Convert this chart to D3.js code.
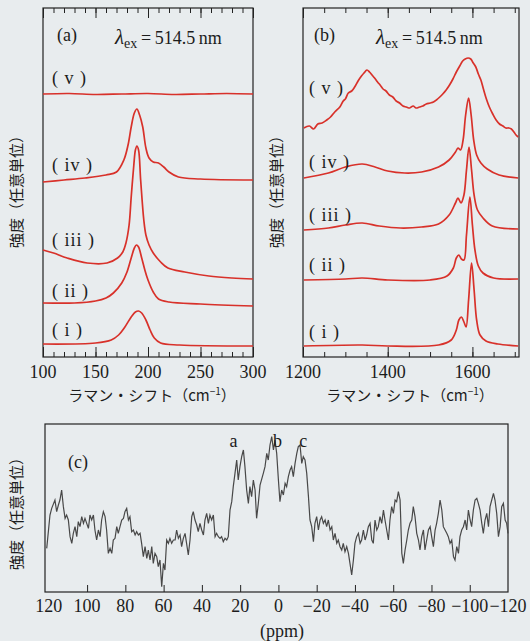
<!DOCTYPE html>
<html lang="ja">
<head>
<meta charset="utf-8">
<title>Raman / NMR spectra</title>
<script src="https://cdn.jsdelivr.net/npm/d3@7"></script>
<style>
  html, body { margin: 0; padding: 0; background: #e8ecee; }
  svg { display: block; }
  .num { font-family: "Liberation Serif", "Times New Roman", Tinos, "DejaVu Serif", "Noto Serif", serif; font-size: 18px; fill: #1c1c1c; }
  .jp { font-family: "Noto Sans CJK JP", sans-serif; font-size: 15px; fill: #1c1c1c; }
  .frame { fill: none; stroke: #222; stroke-width: 1.2; }
  .tick line { stroke: #222; stroke-width: 1; }
  .raman { fill: none; stroke: #d8312a; stroke-width: 1.7; }
  .nmr { fill: none; stroke: #484848; stroke-width: 1.2; }
</style>
</head>
<body>
<svg id="chart" width="530" height="641"></svg>
<script>
// ---- data (intensities in arbitrary units) ----
var traceLabels = ["(i)", "(ii)", "(iii)", "(iv)", "(v)"];

// (a) RBM region, [wavenumber cm-1, intensity]
var rbmI = [[100,13],[150,14],[165,17],[172,22],[178,30],[184,40],[188,45],[191,46],[194,44],[198,37],[202,27],[206,19],[212,14],[230,12],[300,11]];
var rbmII = [[100,54],[130,54],[150,56],[160,59],[167,64],[175,74],[180,85],[184,99],[187,109],[189,112],[191,110],[194,99],[197,87],[200,77],[205,65],[210,58],[220,55],[250,53],[300,51]];
var rbmIII = [[100,107],[110,104],[123,99],[142,94],[161,94],[171,99],[176,105],[179,114],[182,132],[184,160],[186.5,192],[188,207],[189.4,211],[191,207],[193,177],[196,137],[198,122],[201,112],[205,104],[212,95],[219,89],[235,85],[258,81],[280,79],[300,78]];
var rbmIV = [[100,175],[120,177],[140,179],[160,182],[170,185],[177,197],[181,212],[184,230],[187,244],[189.4,248],[192,242],[195,230],[198,209],[201,199],[205,195],[210,194],[215,190],[220,185],[229,180],[250,178],[300,177]];
var rbmV = [[100,263],[125,263.5],[150,262.5],[175,263],[200,263.5],[225,262.5],[250,263],[275,263.5],[300,263]];

// (b) G/D band region, [wavenumber cm-1, intensity]
var gI = [[1202,11],[1340,12],[1400,11],[1520,12],[1550,17],[1562,27],[1568,37],[1574,40],[1580,35],[1585,30],[1591,57],[1598,94],[1604,67],[1610,37],[1618,22],[1632,16],[1660,13],[1708,11]];
var gII = [[1202,77],[1300,78],[1340,79],[1400,77],[1500,77],[1540,81],[1555,89],[1562,99],[1568,102],[1574,98],[1580,97],[1586,122],[1594,160],[1600,132],[1606,107],[1614,91],[1625,84],[1650,79],[1708,78]];
var gIII = [[1202,127],[1260,129],[1300,132],[1340,134],[1380,131],[1430,129],[1480,130],[1520,133],[1545,142],[1560,154],[1566,159],[1573,154],[1580,162],[1586,187],[1592,210],[1598,187],[1604,162],[1612,147],[1625,139],[1647,131],[1708,128]];
var gIV = [[1202,179],[1260,184],[1300,190],[1340,193],[1370,190],[1400,186],[1440,184],[1480,185],[1520,190],[1545,197],[1560,205],[1566,209],[1572,207],[1578,217],[1584,242],[1591,259],[1597,242],[1603,217],[1610,202],[1620,194],[1635,188],[1663,182],[1708,179]];
var gV = [[1202,229],[1215,231],[1225,228],[1235,233],[1245,234],[1256,237],[1265,240],[1275,245],[1287,250],[1295,256],[1300,258],[1307,264],[1315,266],[1322,270],[1330,276],[1338,281],[1344,284],[1351,287],[1357,285],[1363,282],[1369,279],[1376,275],[1382,272],[1389,268],[1396,266],[1404,262],[1412,260],[1420,256],[1428,254],[1436,251],[1444,250],[1452,249],[1460,251],[1467,249],[1475,250],[1483,251],[1491,253],[1500,254],[1508,255],[1515,257],[1523,260],[1530,263],[1538,267],[1546,272],[1554,278],[1562,285],[1570,291],[1577,296],[1583,298],[1590,299],[1596,298],[1602,294],[1608,290],[1614,283],[1620,277],[1626,268],[1633,258],[1640,250],[1648,243],[1656,237],[1664,233],[1672,231],[1679,229],[1686,229],[1692,228],[1698,225],[1703,222],[1708,220]];

// (c) NMR, chemical shift (ppm) and intensity
var ppmC = [121.1,119.4,118.5,116.8,115.9,115.0,114.2,113.3,112.4,111.5,110.7,109.8,108.9,108.0,107.2,106.3,105.4,104.6,103.7,102.8,101.9,101.1,99.3,98.5,97.6,96.7,95.9,95.0,94.1,93.2,92.4,91.5,90.6,89.8,88.9,88.0,87.1,86.3,85.4,84.5,83.7,82.8,81.9,81.0,80.2,79.3,78.4,77.6,76.7,75.8,74.9,74.1,73.2,72.3,71.5,70.6,69.7,68.8,68.0,67.1,66.2,65.4,64.5,63.6,62.8,61.9,61.0,60.1,59.3,58.4,57.5,56.7,55.8,54.9,54.0,53.2,52.3,51.4,50.6,49.7,48.8,48.0,47.1,46.2,45.3,44.5,43.6,42.7,41.9,41.0,40.1,39.2,38.4,37.5,36.6,35.8,34.9,34.0,33.1,32.3,31.4,30.5,29.7,28.8,27.9,27.0,26.2,25.3,24.4,23.6,22.7,21.8,21.0,20.1,19.2,18.3,17.5,16.6,15.7,14.9,14.0,13.1,12.2,11.4,10.5,9.6,7.9,7.0,6.1,5.3,4.4,3.5,2.6,1.8,0.9,0.0,-0.8,-1.7,-2.6,-3.5,-4.3,-5.2,-6.1,-6.9,-7.8,-8.7,-9.6,-10.4,-11.3,-12.2,-13.0,-13.9,-14.8,-15.7,-16.5,-17.4,-18.3,-19.1,-20.0,-20.9,-21.8,-22.6,-23.5,-24.4,-25.2,-26.1,-27.0,-27.9,-28.7,-29.6,-30.5,-31.3,-32.2,-33.1,-33.9,-34.8,-35.7,-36.6,-37.4,-38.3,-39.2,-40.0,-40.9,-41.8,-42.7,-43.5,-44.4,-45.3,-46.1,-47.0,-47.9,-48.8,-49.6,-50.5,-51.4,-52.2,-53.1,-54.0,-54.9,-55.7,-56.6,-57.5,-58.3,-59.2,-60.1,-61.0,-61.8,-62.7,-63.6,-64.5,-65.3,-66.2,-67.1,-67.9,-68.8,-69.7,-70.5,-71.4,-72.3,-73.2,-74.0,-74.9,-75.8,-76.6,-77.5,-78.4,-79.3,-80.1,-81.0,-81.9,-82.7,-83.6,-84.5,-85.4,-86.2,-87.1,-88.0,-88.8,-89.7,-90.6,-91.5,-92.3,-93.2,-94.1,-94.9,-95.8,-96.7,-97.6,-98.4,-99.3,-100.2,-101.0,-101.9,-102.8,-103.7,-104.5,-105.4,-106.3,-107.1,-108.0,-108.9,-109.8,-110.6,-111.5,-112.4,-113.2,-114.1,-115.0,-115.9,-116.7,-117.6,-118.5,-119.3,-120.0];
var intC = [61.5,71.5,73.5,76.0,72.5,74.5,76.0,79.0,74.0,70.5,71.5,70.0,65.0,63.0,66.0,68.0,65.0,69.5,68.0,71.0,69.0,70.5,67.5,71.5,70.0,71.5,67.0,64.0,67.0,65.0,70.0,72.5,71.0,67.0,60.0,61.5,60.0,64.0,64.5,68.0,66.0,68.0,70.0,70.5,72.5,73.5,70.0,71.0,66.5,67.0,65.5,66.5,65.5,66.0,63.0,59.0,62.0,58.5,61.0,58.0,62.0,57.0,60.0,59.0,56.0,58.0,50.0,57.0,55.0,64.0,63.0,64.5,63.0,64.0,64.0,67.0,64.5,65.5,62.0,64.5,66.0,63.0,59.5,64.0,71.0,72.5,70.0,68.5,66.5,69.0,67.0,65.5,70.0,72.0,69.0,71.5,70.0,71.5,65.0,66.0,65.0,64.5,65.0,63.5,64.5,64.0,65.0,73.0,75.5,80.0,84.0,88.0,82.0,86.0,89.0,91.0,86.0,79.0,75.0,80.0,77.0,82.0,79.0,70.5,75.0,80.5,84.0,86.0,90.0,88.0,92.5,95.0,91.0,94.0,90.0,82.0,75.5,79.0,77.5,81.0,80.0,83.0,85.0,86.0,83.0,87.0,90.0,92.0,92.5,87.0,89.0,88.0,84.0,77.0,70.0,68.0,63.5,69.0,71.0,67.0,70.0,71.0,69.0,70.0,68.0,70.0,67.0,68.0,64.0,66.0,63.0,64.0,62.0,61.0,63.0,60.5,62.0,60.0,57.0,53.5,58.0,63.0,65.0,66.0,63.0,64.0,67.0,64.0,65.5,68.0,69.0,64.0,63.0,70.0,67.0,68.0,71.0,69.0,73.0,70.0,67.0,64.0,70.0,74.0,72.0,76.0,75.5,78.5,76.0,60.0,57.0,61.0,64.0,67.0,69.0,70.0,74.0,71.0,66.0,64.0,61.0,65.0,67.0,61.0,64.0,67.0,68.0,65.0,62.0,67.0,69.0,72.0,76.0,73.0,68.0,67.0,66.0,65.0,63.0,64.0,59.0,58.0,62.0,60.0,65.0,67.0,68.0,70.0,67.0,73.0,70.0,68.0,73.0,76.0,76.5,75.0,73.0,69.0,66.0,70.0,72.0,68.0,74.0,76.0,78.0,76.0,72.0,65.0,68.0,74.0,75.0,70.0,69.0,66.0];

var ticksA = [100, 150, 200, 250, 300];
var ticksB = [1200, 1400, 1600];
var ticksC = [120, 100, 80, 60, 40, 20, 0, -20, -40, -60, -80, -100, -120];
var peakLetters = ["a", "b", "c"];

// ---- layout ----
var svg = d3.select("#chart");
var xA = d3.scaleLinear().domain([100, 300]).range([43, 253]);
var xB = d3.scaleLinear().domain([1200, 1710]).range([303, 519]);
var yAB = d3.scaleLinear().domain([0, 349]).range([357, 8]);
var xC = d3.scaleLinear().domain([122, -120]).range([45, 508]);
var yC = d3.scaleLinear().domain([48.4, 98.8]).range([592, 424]);

function fmt(v) { return v < 0 ? "\u2212" + Math.abs(v) : String(v); }

function tickRow(scale, values, y, size, top) {
    var ax = top ? d3.axisTop(scale) : d3.axisBottom(scale);
    svg.append("g")
        .attr("transform", "translate(0," + y + ")")
        .call(ax.tickValues(values).tickSize(-size).tickFormat(""))
        .call(function(g) { g.select(".domain").remove(); });
}

function frame(x0, y0, x1, y1) {
    svg.append("rect").attr("class", "frame")
        .attr("x", x0).attr("y", y0).attr("width", x1 - x0).attr("height", y1 - y0);
}

function ylabel(x, y) {
    svg.append("text").attr("class", "jp")
        .attr("transform", "translate(" + x + "," + y + ") rotate(-90)")
        .attr("text-anchor", "middle")
        .text("強度（任意単位）");
}

function xlabelRaman(x) {
    var t = svg.append("text").attr("class", "jp")
        .attr("x", x).attr("y", 401).attr("text-anchor", "middle").attr("font-size", 16);
    t.append("tspan").text("ラマン・シフト（cm");
    t.append("tspan").attr("font-size", 10).attr("dy", -6).text("−1");
    t.append("tspan").attr("dy", 6).text("）");
}

function lambda(x, y) {
    var t = svg.append("text").attr("class", "num").attr("x", x).attr("y", y).attr("font-size", 19);
    t.append("tspan").attr("font-style", "italic").attr("font-size", 21).text("λ");
    t.append("tspan").attr("font-size", 14).attr("dy", 4).text("ex");
    t.append("tspan").attr("dy", -4).text("\u2009=\u2009514.5\u2009nm");
}

var line = d3.line().curve(d3.curveCatmullRom.alpha(0.5));

// ---- panel (a) ----
frame(43, 8, 253, 357);
tickRow(xA, d3.range(100, 301, 10), 357, 5, false);
tickRow(xA, ticksA, 357, 10, false);
tickRow(xA, d3.range(100, 301, 10), 8, 5, true);
tickRow(xA, ticksA, 8, 10, true);
[rbmI, rbmII, rbmIII, rbmIV, rbmV].forEach(function(s) {
    svg.append("path").attr("class", "raman")
        .attr("d", line.x(function(d) { return xA(d[0]); }).y(function(d) { return yAB(d[1]); })(s));
});
svg.selectAll(".tlA").data(ticksA).enter().append("text").attr("class", "num")
    .attr("x", function(d) { return xA(d); }).attr("y", 378).attr("text-anchor", "middle").text(fmt);
svg.append("text").attr("class", "num").attr("x", 57).attr("y", 41).attr("font-size", 20).text("(a)");
lambda(115, 44);
var labelYa = [336, 297, 246, 171, 84];
traceLabels.forEach(function(l, i) {
    svg.append("text").attr("class", "num").attr("x", 52).attr("y", labelYa[i]).attr("font-size", 17)
        .attr("letter-spacing", 1).text(l.replace("(", "( ").replace(")", " )"));
});
ylabel(22, 188);
xlabelRaman(152);

// ---- panel (b) ----
frame(303, 8, 519, 357);
tickRow(xB, d3.range(1200, 1701, 50), 357, 5, false);
tickRow(xB, ticksB, 357, 10, false);
tickRow(xB, d3.range(1200, 1701, 50), 8, 5, true);
tickRow(xB, ticksB, 8, 10, true);
[gI, gII, gIII, gIV, gV].forEach(function(s) {
    svg.append("path").attr("class", "raman")
        .attr("d", line.x(function(d) { return xB(d[0]); }).y(function(d) { return yAB(d[1]); })(s));
});
svg.selectAll(".tlB").data(ticksB).enter().append("text").attr("class", "num")
    .attr("x", function(d) { return xB(d); }).attr("y", 378).attr("text-anchor", "middle").text(fmt);
svg.append("text").attr("class", "num").attr("x", 314).attr("y", 41).attr("font-size", 20).text("(b)");
lambda(376, 44);
var labelYb = [338, 271, 221, 168, 94];
traceLabels.forEach(function(l, i) {
    svg.append("text").attr("class", "num").attr("x", 309).attr("y", labelYb[i]).attr("font-size", 17)
        .attr("letter-spacing", 1).text(l.replace("(", "( ").replace(")", " )"));
});
ylabel(282, 188);
xlabelRaman(410);

// ---- panel (c) ----
frame(45, 424, 508, 592);
tickRow(xC, ticksC.slice(1, -1), 592, 7, false);
svg.append("path").attr("class", "nmr")
    .attr("d", d3.line().x(function(d, i) { return xC(ppmC[i]); }).y(function(d) { return yC(d); })(intC));
svg.selectAll(".tlC").data(ticksC).enter().append("text").attr("class", "num")
    .attr("x", function(d) { return xC(d); }).attr("y", 612).attr("text-anchor", "middle").text(fmt);
svg.append("text").attr("class", "num").attr("x", 282).attr("y", 637).attr("text-anchor", "middle").text("(ppm)");
svg.append("text").attr("class", "num").attr("x", 68).attr("y", 468).attr("font-size", 20).text("(c)");
var letterPpm = [23.5, 0.5, -13];
peakLetters.forEach(function(l, i) {
    svg.append("text").attr("class", "num").attr("x", xC(letterPpm[i])).attr("y", 447)
        .attr("text-anchor", "middle").text(l);
});
ylabel(22, 510);
</script>
</body>
</html>
